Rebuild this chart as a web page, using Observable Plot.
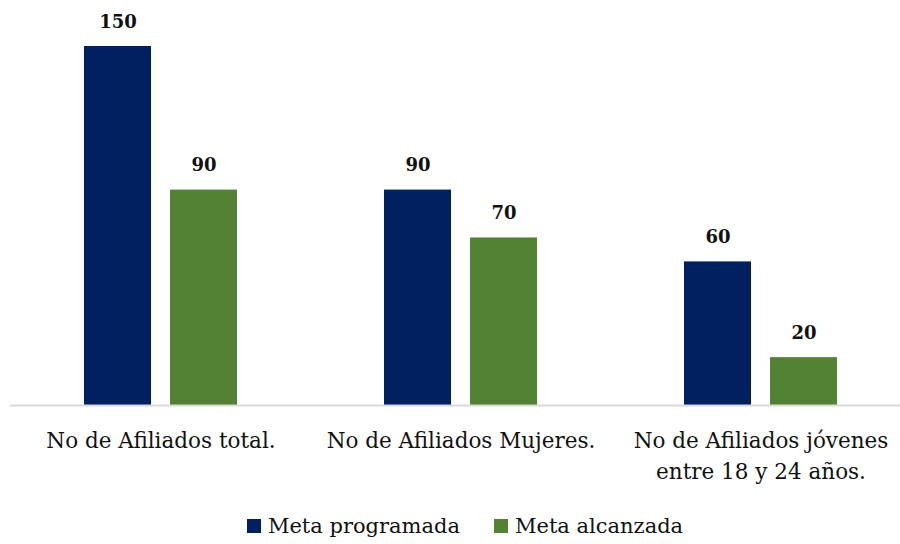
<!DOCTYPE html>
<html>
<head>
<meta charset="utf-8">
<script src="https://cdn.jsdelivr.net/npm/d3@7"></script>
<script src="https://cdn.jsdelivr.net/npm/@observablehq/plot@0.6"></script>
<style>
  html, body { margin: 0; padding: 0; background: #fff; }
  #chart { width: 900px; height: 544px; position: relative; font-family: "DejaVu Serif", serif; }
  .legend { position: absolute; top: 514px; left: 0; width: 900px; display: flex; justify-content: center; gap: 34px; font-size: 21px; color: #111; padding-left: 30px; box-sizing: border-box; }
  .legend span.item { display: flex; align-items: center; }
  .legend span.sw { display: inline-block; width: 14px; height: 14px; margin-right: 7px; }
</style>
</head>
<body>
<div id="chart"></div>
<script>
const categories = ["No de Afiliados total.", "No de Afiliados Mujeres.", "No de Afiliados jóvenes entre 18 y 24 años."];
const tickLabels = ["No de Afiliados total.", "No de Afiliados Mujeres.", "No de Afiliados jóvenes\nentre 18 y 24 años."];
const series = ["Meta programada", "Meta alcanzada"];
const metaProgramada = [150, 90, 60];
const metaAlcanzada = [90, 70, 20];
const colors = ["#002060", "#548235"];

const progData = categories.map((c, i) => ({category: c, value: metaProgramada[i]}));
const alcData = categories.map((c, i) => ({category: c, value: metaAlcanzada[i]}));

const font = "DejaVu Serif, serif";
const plot = Plot.plot({
  width: 900,
  height: 490,
  marginTop: 46,
  marginBottom: 85,
  marginLeft: 10,
  marginRight: 0,
  style: {fontFamily: font, background: "#fff"},
  x: {domain: categories, range: [10.4, 911], paddingInner: 0.777, paddingOuter: 0.3885, axis: null},
  y: {domain: [0, 150], axis: null},
  marks: [
    Plot.barY(progData, {x: "category", y: "value", fill: colors[0], dx: -43}),
    Plot.barY(alcData, {x: "category", y: "value", fill: colors[1], dx: 43}),
    Plot.text(progData, {x: "category", y: "value", text: d => String(d.value), dx: -43, dy: -19, lineAnchor: "bottom", fontSize: 18, fontWeight: "bold", fill: "#111"}),
    Plot.text(alcData, {x: "category", y: "value", text: d => String(d.value), dx: 43, dy: -19, lineAnchor: "bottom", fontSize: 18, fontWeight: "bold", fill: "#111"}),
    Plot.ruleY([0], {stroke: "#d9d9d9", strokeWidth: 2}),
    Plot.text(categories, {x: d => d, y: 0, text: (d, i) => tickLabels[i], dy: 21, lineAnchor: "top", fontSize: 21.5, lineHeight: 1.44, fill: "#111"})
  ]
});
const chart = document.getElementById("chart");
chart.appendChild(plot);
const legend = document.createElement("div");
legend.className = "legend";
series.forEach((s, i) => {
  const item = document.createElement("span");
  item.className = "item";
  item.innerHTML = `<span class="sw" style="background:${colors[i]}"></span>${s}`;
  legend.appendChild(item);
});
chart.appendChild(legend);
</script>
</body>
</html>
